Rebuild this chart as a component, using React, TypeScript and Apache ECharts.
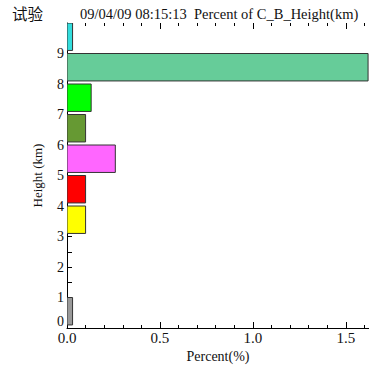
import React, { useEffect, useRef } from "react";
import * as echarts from "echarts";

const binStarts = [0, 1, 2, 3, 4, 5, 6, 7, 8, 9];
const percents = [0.03, 0, 0, 0.1, 0.1, 0.26, 0.1, 0.13, 1.62, 0.03];
const barColors = ["#999999", "#cccccc", "#cccccc", "#ffff00", "#ff0000", "#ff66ff", "#669933", "#00ff00", "#66cc99", "#33dddd"];
const xTickLabels = ["0.0", "0.5", "1.0", "1.5"];
const yTickLabels = ["0", "1", "2", "3", "4", "5", "6", "7", "8", "9"];

const FONT = "Times New Roman, Liberation Serif, serif";

export default function App() {
  const ref = useRef<HTMLDivElement>(null);
  useEffect(() => {
    if (!ref.current) return;
    const chart = echarts.init(ref.current, undefined, { renderer: "svg" });
    const data = binStarts.map((b, i) => ({ value: [percents[i], b], itemStyle: { color: barColors[i] } }));
    const xFmt = (v: number) => {
      const s = v.toFixed(1);
      return xTickLabels.includes(s) && Math.abs(v * 2 - Math.round(v * 2)) < 1e-6 ? s : "";
    };
    const yFmt = (v: number) => {
      const s = String(Math.round(v));
      if (!(Math.abs(v - Math.round(v)) < 1e-6 && yTickLabels.includes(s))) return "";
      return v === 0 ? "{z|0}" : s;
    };
    chart.setOption({
      animation: false,
      backgroundColor: "#ffffff",
      textStyle: { fontFamily: FONT },
      grid: { left: 67, top: 23, right: 0, bottom: 42, containLabel: false },
      graphic: [
        { type: "text", left: 12, top: 5, style: { text: "试验", fontFamily: "Noto Sans CJK SC", fontSize: 15.5, fill: "#111" } },
        { type: "text", left: 80, top: 6, style: { text: "09/04/09 08:15:13  Percent of C_B_Height(km)", fontFamily: FONT, fontSize: 14.5, fill: "#111" } },
      ],
      xAxis: [
        {
          type: "value", min: 0, max: 1.625, interval: 0.5, position: "bottom",
          name: "Percent(%)", nameLocation: "middle", nameGap: 20,
          nameTextStyle: { fontFamily: FONT, fontSize: 14, color: "#111" },
          axisLine: { show: true, lineStyle: { color: "#000", width: 1 } },
          axisTick: { show: true, inside: true, length: 6, lineStyle: { color: "#000" } },
          minorTick: { show: true, splitNumber: 5, length: 3, lineStyle: { color: "#000" } },
          axisLabel: { formatter: xFmt, fontFamily: FONT, fontSize: 15, color: "#111", margin: 2, showMaxLabel: false },
          splitLine: { show: false },
        },
        {
          type: "value", min: 0, max: 1.625, interval: 0.5, position: "top",
          axisLine: { show: false },
          axisTick: { show: true, inside: true, length: 6, lineStyle: { color: "#000" } },
          minorTick: { show: true, splitNumber: 5, length: 3, lineStyle: { color: "#000" } },
          axisLabel: { show: false },
          splitLine: { show: false },
        },
      ],
      yAxis: {
        type: "value", min: 0, max: 10, interval: 1,
        name: "Height (km)", nameLocation: "middle", nameGap: 23, nameRotate: 90,
        nameTextStyle: { fontFamily: FONT, fontSize: 13, color: "#111" },
        axisLine: { show: true, lineStyle: { color: "#000", width: 1 } },
        axisTick: { show: true, inside: true, length: 5, lineStyle: { color: "#000" } },
        minorTick: { show: true, splitNumber: 2, length: 5, lineStyle: { color: "#000" } },
        axisLabel: {
          formatter: yFmt, fontFamily: FONT, fontSize: 14, color: "#111", margin: 3, showMaxLabel: false,
          rich: { z: { fontFamily: FONT, fontSize: 14, color: "#111", padding: [0, 0, 14, 0] } },
        },
        splitLine: { show: false },
      },
      series: [
        {
          type: "custom",
          xAxisIndex: 0,
          clip: true,
          renderItem: (params: any, api: any) => {
            const v = api.value(0);
            const b = api.value(1);
            if (!(v > 0)) return null;
            const p0 = api.coord([0, b + 1]);
            const p1 = api.coord([v, b + 0.1]);
            const color = barColors[params.dataIndex];
            return {
              type: "rect",
              shape: { x: p0[0], y: p0[1], width: p1[0] - p0[0], height: p1[1] - p0[1] },
              style: { fill: color, stroke: "#333", lineWidth: 1 },
            };
          },
          encode: { x: 0, y: 1 },
          data,
        },
      ],
    });
    return () => chart.dispose();
  }, []);
  return <div ref={ref} style={{ position: "absolute", left: 0, top: 0, width: 369, height: 370 }} />;
}
